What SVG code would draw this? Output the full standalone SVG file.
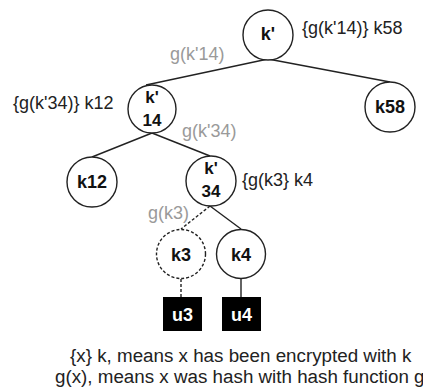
<svg xmlns="http://www.w3.org/2000/svg" width="423" height="389" viewBox="0 0 423 389">
<style>
.n{fill:#fff;stroke:#222;stroke-width:1.4}
.d{stroke-dasharray:3,2}
.t{font-family:"Liberation Sans",Arial,sans-serif;font-weight:bold;font-size:18px;fill:#111;text-anchor:middle}
.s{font-size:17px}
.w{fill:#fff}
.l{font-family:"Liberation Sans",Arial,sans-serif;font-size:18px;fill:#222}
.g{fill:#9a9a9a}
.e{stroke:#222;stroke-width:1.4;fill:none}
.b{fill:#000}
</style>
<rect width="423" height="389" fill="#fff"/>
<g id="connectors">
<line class="e" x1="268" y1="59" x2="146" y2="85"/>
<line class="e" x1="268" y1="59" x2="390" y2="82"/>
<line class="e" x1="152" y1="133" x2="92" y2="157"/>
<line class="e" x1="152" y1="133" x2="210" y2="156"/>
<line class="e d" x1="210" y1="206" x2="181" y2="229"/>
<line class="e" x1="210" y1="206" x2="241" y2="229"/>
<line class="e d" x1="181" y1="279" x2="181" y2="297"/>
<line class="e" x1="241" y1="279" x2="241" y2="297"/>
<text class="l g" x="170" y="60">g(k'14)</text>
<text class="l g" x="182" y="137">g(k'34)</text>
<text class="l g" x="148" y="219">g(k3)</text>
</g>
<g id="root">
<circle class="n" cx="268" cy="35" r="25"/>
<text class="t" x="268" y="40">k'</text>
<text class="l" x="302" y="34">{g(k'14)} k58</text>
</g>
<g id="k58">
<circle class="n" cx="390" cy="107" r="25"/>
<text class="t" x="390" y="113">k58</text>
</g>
<g id="k14">
<circle class="n" cx="152" cy="109" r="24"/>
<text class="t s" x="152" y="103">k'</text>
<text class="t s" x="152" y="126">14</text>
<text class="l" x="13" y="109">{g(k'34)} k12</text>
</g>
<g id="k12">
<circle class="n" cx="92" cy="182" r="25"/>
<text class="t" x="92" y="188">k12</text>
</g>
<g id="k34">
<circle class="n" cx="211" cy="181" r="25"/>
<text class="t s" x="211" y="174">k'</text>
<text class="t s" x="211" y="197">34</text>
<text class="l" x="242" y="186">{g(k3} k4</text>
</g>
<g id="k3">
<circle class="n d" cx="181" cy="254" r="24.5"/>
<text class="t" x="181" y="261">k3</text>
</g>
<g id="k4">
<circle class="n" cx="241" cy="254" r="24.5"/>
<text class="t" x="241" y="261">k4</text>
</g>
<g id="u3">
<rect class="b" x="163" y="297" width="39" height="34"/>
<text class="t w" x="182.5" y="321">u3</text>
</g>
<g id="u4">
<rect class="b" x="222" y="297" width="39" height="34"/>
<text class="t w" x="241.5" y="321">u4</text>
</g>
<g id="legend">
<text class="l" x="70" y="362" style="font-size:18.8px">{x} k, means x has been encrypted with k</text>
<text class="l" x="55" y="383" style="font-size:18.8px">g(x), means x was hash with hash function g</text>
</g>
</svg>
